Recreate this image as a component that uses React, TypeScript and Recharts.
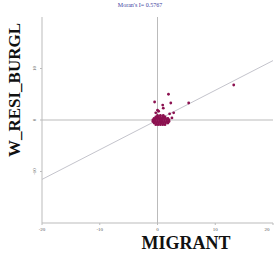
import React from "react";
import { ScatterChart, Scatter, XAxis, YAxis, ReferenceLine } from "recharts";

const migrant = [
  -0.3, 0.1, 0.5, 0.9, 1.3,
  -0.6, -0.2, 0.2, 0.6, 1.0, 1.4, 1.8,
  -0.8, -0.4, 0.0, 0.4, 0.8, 1.2, 1.6, 2.0,
  -0.8, -0.4, 0.0, 0.4, 0.8, 1.2, 1.6, 2.0,
  -0.6, -0.2, 0.2, 0.6, 1.0, 1.4, 1.8,
  -0.3, 0.1, 0.5, 0.9, 1.3,
  0.0, 0.5, 1.0,
  1.9, -0.5, 5.4, 13.2, 0.9, 2.3, 0.0, 1.0, 2.1, 2.8, -0.3, 0.2, 2.5,
];
const wResiBurgl = [
  -0.9, -0.9, -0.9, -0.9, -0.9,
  -0.6, -0.6, -0.6, -0.6, -0.6, -0.6, -0.6,
  -0.3, -0.3, -0.3, -0.3, -0.3, -0.3, -0.3, -0.3,
  0.0, 0.0, 0.0, 0.0, 0.0, 0.0, 0.0, 0.0,
  0.3, 0.3, 0.3, 0.3, 0.3, 0.3, 0.3,
  0.6, 0.6, 0.6, 0.6, 0.6,
  0.9, 0.9, 0.9,
  5.0, 3.5, 3.3, 6.8, 2.9, 3.3, 1.9, 2.3, 1.2, 1.4, 1.4, 1.7, 0.4,
];
const xTicks = [-20, -10, 0, 10, 20];
const yTicks = [-10, 0, 10];
const moransI = 0.5767;

const points = migrant.map((x, i) => ({ x, y: wResiBurgl[i] }));

const XTick = (props: any) => {
  const { x, y, payload } = props;
  return (
    <text x={x} y={y + 4} textAnchor="middle" fontSize={5} fill="#555" fontFamily="Liberation Serif">
      {payload.value}
    </text>
  );
};

const YTick = (props: any) => {
  const { x, y, payload } = props;
  return (
    <text
      x={x - 2}
      y={y}
      transform={`rotate(-90 ${x - 2} ${y})`}
      textAnchor="middle"
      fontSize={5}
      fill="#555"
      fontFamily="Liberation Serif"
    >
      {payload.value}
    </text>
  );
};

export default function App() {
  return (
    <div style={{ position: "absolute", left: 0, top: 0, width: 275, height: 253, background: "#fff" }}>
      <ScatterChart width={275} height={253} margin={{ top: 17, right: 2, bottom: 0, left: 0 }}>
        <XAxis
          type="number"
          dataKey="x"
          domain={[-20, 20]}
          ticks={xTicks}
          tick={<XTick />}
          tickSize={2}
          stroke="#bbb"
          height={30}
          allowDataOverflow
        />
        <XAxis xAxisId="top" type="number" orientation="top" domain={[-20, 20]} tick={false} height={0} stroke="#bbb" />
        <YAxis
          type="number"
          dataKey="y"
          domain={[-20, 20]}
          ticks={yTicks}
          tick={<YTick />}
          tickSize={2}
          stroke="#bbb"
          width={42}
          allowDataOverflow
        />
        <YAxis yAxisId="right" type="number" orientation="right" domain={[-20, 20]} tick={false} width={0} stroke="#bbb" />
        <ReferenceLine x={0} stroke="#bbb" strokeWidth={1} />
        <ReferenceLine y={0} stroke="#bbb" strokeWidth={1} />
        <ReferenceLine
          segment={[
            { x: -20, y: -20 * moransI },
            { x: 20, y: 20 * moransI },
          ]}
          stroke="#c4c4cc"
          strokeWidth={1}
        />
        <Scatter
          data={points}
          fill="#8c1150"
          isAnimationActive={false}
          shape={(p: any) => <circle cx={p.cx} cy={p.cy} r={1.4} fill="#8c1150" />}
        />
      </ScatterChart>
      <div
        style={{
          position: "absolute",
          left: 100,
          top: 2,
          width: 80,
          textAlign: "center",
          fontSize: 6,
          lineHeight: "7px",
          color: "#4040a0",
          fontFamily: "Liberation Serif",
          whiteSpace: "nowrap",
        }}
      >
        Moran's I= {moransI}
      </div>
      <div
        style={{
          position: "absolute",
          left: 186,
          top: 243,
          transform: "translate(-50%, -50%)",
          fontSize: 18,
          lineHeight: "13px",
          fontWeight: "bold",
          fontFamily: "Liberation Serif",
          color: "#111",
          whiteSpace: "nowrap",
        }}
      >
        MIGRANT
      </div>
      <div
        style={{
          position: "absolute",
          left: 14,
          top: 90,
          transform: "translate(-50%, -50%) rotate(-90deg)",
          fontSize: 17,
          lineHeight: "13px",
          fontWeight: "bold",
          fontFamily: "Liberation Serif",
          color: "#111",
          whiteSpace: "nowrap",
        }}
      >
        W_RESI_BURGL
      </div>
    </div>
  );
}
